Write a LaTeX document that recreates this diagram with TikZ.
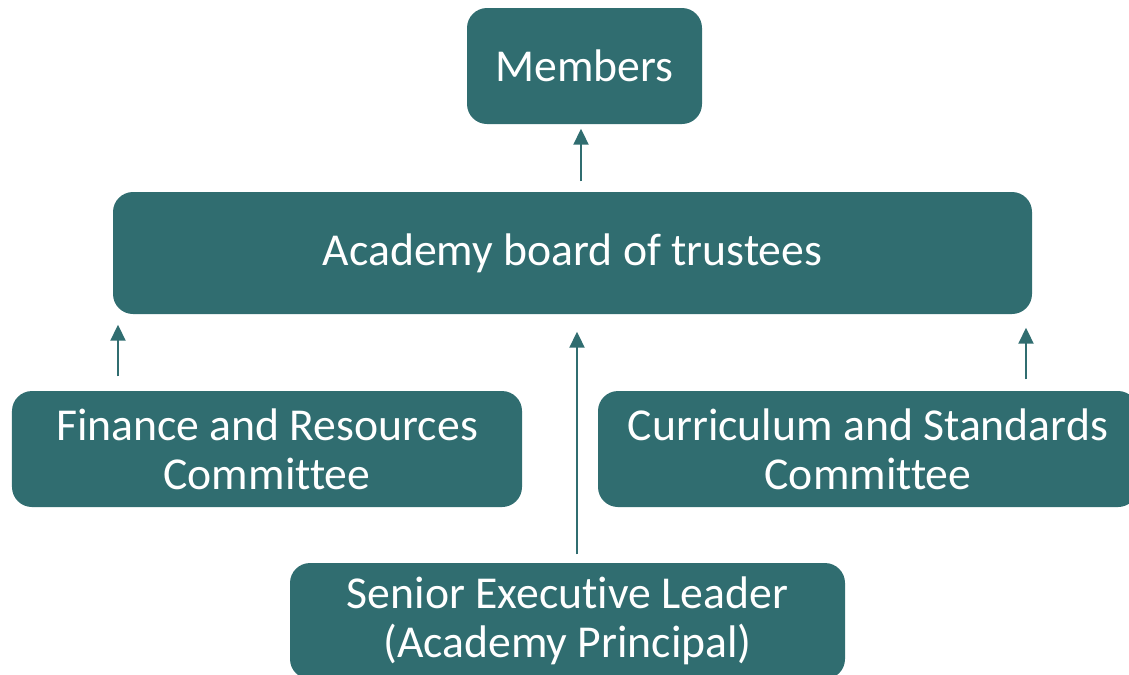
\documentclass[tikz,border=0pt]{standalone}
\usepackage{fontspec}
\setmainfont{Carlito}[Ligatures=NoCommon]
\usepackage{xcolor}
\usetikzlibrary{arrows.meta}

\definecolor{boxteal}{RGB}{48,109,112}
\tikzset{
	orgbox/.style={rectangle, rounded corners=0.2cm, fill=boxteal, text=white,
		align=center, inner sep=0pt, font=\fontsize{13}{14}\selectfont},
	uparrow/.style={-{Triangle[length=0.16cm,width=0.15cm]}, boxteal, line width=0.6pt}
}

\begin{document}
\begin{tikzpicture}
		\useasboundingbox (0,0) rectangle (11.29,-6.74);
		\clip (0,0) rectangle (11.29,-6.74);
		% блоки
		\node [orgbox, minimum width=2.35cm, minimum height=1.16cm] (members) at (5.845,-0.66) {Members};
		\node [orgbox, minimum width=9.19cm, minimum height=1.22cm] (board) at (5.725,-2.53) {Academy board of trustees};
		\node [orgbox, minimum width=5.10cm, minimum height=1.16cm] (finance) at (2.67,-4.49) {Finance and Resources\\Committee};
		\node [orgbox, minimum width=5.40cm, minimum height=1.16cm] (curriculum) at (8.68,-4.49) {Curriculum and Standards\\Committee};
		\node [orgbox, minimum width=5.55cm, minimum height=1.16cm] (senior) at (5.675,-6.21) {Senior Executive Leader\\(Academy Principal)};
		% стрелки
		\coordinate (xm) at (5.81,0);
		\coordinate (xl) at (1.18,0);
		\coordinate (xc) at (5.77,0);
		\coordinate (xr) at (10.26,0);
		\draw [uparrow, shorten <=0.10cm, shorten >=0.04cm] (board.north -| xm) -- (members.south -| xm);
		\draw [uparrow, shorten <=0.14cm, shorten >=0.10cm] (finance.north -| xl) -- (board.south -| xl);
		\draw [uparrow, shorten <=0.08cm, shorten >=0.17cm] (senior.north -| xc) -- (board.south -| xc);
		\draw [uparrow, shorten <=0.11cm, shorten >=0.13cm] (curriculum.north -| xr) -- (board.south -| xr);
\end{tikzpicture}
\end{document}
